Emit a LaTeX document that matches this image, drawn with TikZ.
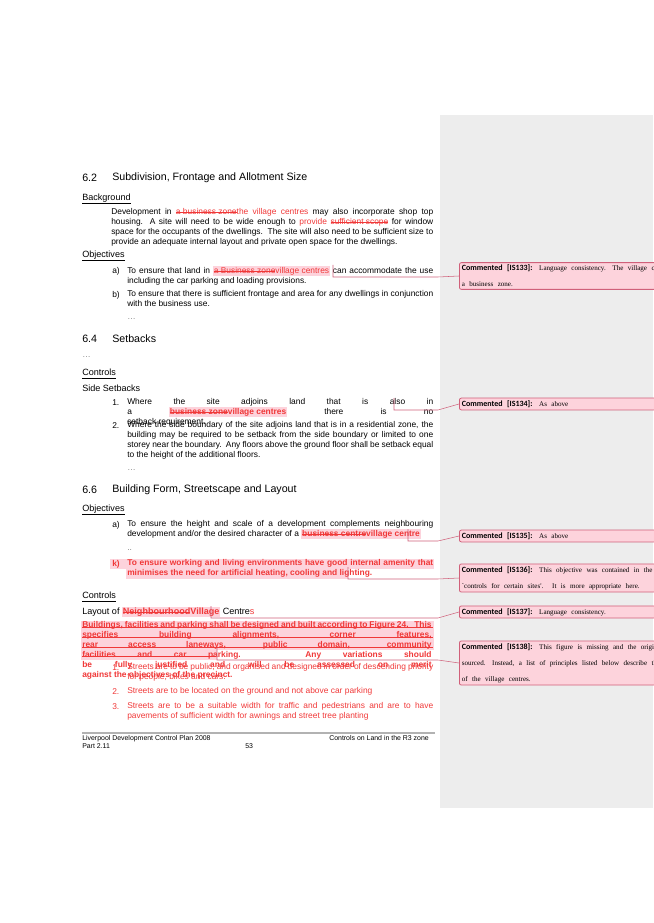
\documentclass[tikz,border=0pt]{standalone}
\usepackage{fontspec}
\setmainfont{Liberation Sans}
\newfontfamily\cmtfont{Liberation Serif}
\newfontfamily\cmthead{Carlito}
\usepackage{xcolor}
\usetikzlibrary{positioning}

\definecolor{chg}{HTML}{F03838}
\definecolor{hilite}{HTML}{FDD3DC}
\definecolor{cmtline}{HTML}{D0607A}
\definecolor{panel}{HTML}{EDEDED}
\newcommand{\strk}[1]{{\setbox0\hbox{#1}\rlap{\rule[0.25em]{\wd0}{0.35pt}}\box0}}
\newcommand{\del}[1]{\textcolor{chg}{\strk{#1}}}
\newcommand{\ins}[1]{\textcolor{chg}{#1}}
\newcommand{\hlspan}[1]{{\setlength{\fboxsep}{0.6pt}\colorbox{hilite}{#1}}}
\newcommand{\bodysize}{\fontsize{6.3}{7.5}\selectfont}
\newcommand{\cmt}[2]{{\cmthead\bfseries\fontsize{6}{7}\selectfont Commented [#1]:} {\cmtfont\fontsize{5.3}{7}\selectfont #2}}

\begin{document}
\begin{tikzpicture}[x=0.75pt,y=-0.75pt]
\tikzset{
  txt/.style={anchor=west, inner sep=0, font=\bodysize},
  para/.style={anchor=north west, inner sep=0, font=\bodysize, text width=#1, align=justify},
  head/.style={anchor=west, inner sep=0, font=\fontsize{8}{9}\selectfont},
  sub/.style={anchor=west, inner sep=0, font=\fontsize{6.8}{8}\selectfont},
  foot/.style={anchor=north west, inner sep=0, font=\fontsize{5.2}{6.2}\selectfont, align=left},
  comment/.style={anchor=west, draw=cmtline, fill=hilite, rounded corners=1.5pt, text width=180pt, align=left, inner sep=1.8pt, line width=0.6pt},
  link/.style={draw=cmtline, line width=0.4pt}
}
\useasboundingbox (0,0) rectangle (653,923);
\fill[panel] (440,115) rectangle (653,808);

% pink ranges
\fill[hilite] (110,559) rectangle (434,569);
\fill[hilite] (126,569) rectangle (348,579);
\fill[hilite] (81,621) rectangle (434,650);
\fill[hilite] (81,650) rectangle (217,660);

% 6.2
\node (h62) [head] at (82,178) {6.2};
\node (t62) [head] at (112,178) {Subdivision, Frontage and Allotment Size};
\node (bg) [sub] at (82,199) {\underline{Background}};
\node (pbg) [para=241.5pt] at (111,208) {Development in \del{a business zone}\ins{the village centres} may also incorporate shop top\linebreak housing. A site will need to be wide enough to \ins{provide \strk{sufficient scope}} for window\linebreak space for the occupants of the dwellings.\ \ The site will also need to be sufficient size to\linebreak provide an adequate internal layout and private open space for the dwellings.};
\node (obj1) [sub] at (82,256) {\underline{Objectives}};
\node (la) [txt] at (112,271) {a)};
\node (pa) [para=229.5pt] at (127,266) {To ensure that land in \hlspan{\del{a Business zone}\ins{village centres}} can accommodate the use\linebreak including the car parking and loading provisions.};
\node (lb) [txt] at (112,295) {b)};
\node (pb) [para=229.5pt] at (127,290) {To ensure that there is sufficient frontage and area for any dwellings in conjunction\linebreak with the business use.};
\node (dots1) [txt, text=gray] at (127,319) {\ldots};

% 6.4
\node (h64) [head] at (82,339) {6.4};
\node (t64) [head] at (112,339) {Setbacks};
\node (dots2) [txt, text=gray] at (82,357) {\ldots};
\node (ctl1) [sub] at (82,374) {\underline{Controls}};
\node (side) [sub] at (82,388) {Side Setbacks};
\node (l1) [txt] at (112,403) {1.};
\node (p1) [para=229.5pt] at (127,398) {Where the site adjoins land that is also in a \hlspan{\textbf{\del{business zone}\ins{village centres}}} there is no\linebreak setback requirement.};
\node (l2) [txt] at (112,426) {2.};
\node (p2) [para=229.5pt] at (127,421) {Where the side boundary of the site adjoins land that is in a residential zone, the\linebreak building may be required to be setback from the side boundary or limited to one\linebreak storey near the boundary.\ \ Any floors above the ground floor shall be setback equal\linebreak to the height of the additional floors.};
\node (dots3) [txt, text=gray] at (127,470) {\ldots};

% 6.6
\node (h66) [head] at (82,490) {6.6};
\node (t66) [head] at (112,490) {Building Form, Streetscape and Layout};
\node (obj2) [sub] at (82,510) {\underline{Objectives}};
\node (la2) [txt] at (112,525) {a)};
\node (pa2) [para=229.5pt] at (127,520) {To ensure the height and scale of a development complements neighbouring\linebreak development and/or the desired character of a \hlspan{\textbf{\del{business centre}\ins{village centre}}}};
\node (dots4) [txt, text=gray] at (127,550) {..};
\node (lk) [txt, text=chg, font=\bodysize\bfseries] at (112,564) {k)};
\node (pk) [para=229.5pt, text=chg, font=\bodysize\bfseries] at (127,559) {To ensure working and living environments have good internal amenity that\linebreak minimises the need for artificial heating, cooling and lighting.};
\node (ctl2) [sub] at (82,597) {\underline{Controls}};
\node (lay) [sub] at (82,612) {Layout of \hlspan{\textbf{\del{Neighbourhood}\ins{ Village}}} Centre\ins{s}};
\node (pfig) [para=262pt, text=chg, font=\bodysize\bfseries] at (82,621) {Buildings, facilities and parking shall be designed and built according to Figure 24.\ \ \ This\linebreak specifies building alignments, corner features, rear access laneways, public domain, community\linebreak facilities and car parking.\ \ \ Any variations should be fully justified and will be assessed on merit\linebreak against the objectives of the precinct.};
% strike lines of the deleted paragraph
\foreach \y in {627,637,647}
  \draw[chg, line width=0.4pt] (82,\y) -- (433,\y);
\draw[chg, line width=0.4pt] (82,656) -- (216,656);
\node (n1) [txt, text=chg] at (112,668) {1.};
\node (q1) [para=229.5pt, text=chg] at (127,663) {Streets are to be public, and organised and designed in order of descending priority\linebreak for people, bikes and cars.};
\node (n2) [txt, text=chg] at (112,692) {2.};
\node (q2) [para=229.5pt, text=chg] at (127,687) {Streets are to be located on the ground and not above car parking};
\node (n3) [txt, text=chg] at (112,707) {3.};
\node (q3) [para=229.5pt, text=chg] at (127,702) {Streets are to be a suitable width for traffic and pedestrians and are to have\linebreak pavements of sufficient width for awnings and street tree planting};

% footer
\draw[gray!60, line width=0.8pt] (82,733) -- (435,733);
\node (fl) [foot] at (82,735) {Liverpool Development Control Plan 2008\\Part 2.11};
\node (fp) [foot] at (245,743) {53};
\node (fr) [foot, anchor=north east] at (429,735) {Controls on Land in the R3 zone};

% comments
\node (c133) [comment] at (459,276) {\cmt{IS133}{Language consistency. The village centres are not a business zone.}};
\node (c134) [comment] at (459,404) {\cmt{IS134}{As above}};
\node (c135) [comment] at (459,536) {\cmt{IS135}{As above}};
\node (c136) [comment] at (459,578) {\cmt{IS136}{This objective was contained in the section `controls for certain sites'.\ \ It is more appropriate here.}};
\node (c137) [comment] at (459,612) {\cmt{IS137}{Language consistency.}};
\node (c138) [comment] at (459,663) {\cmt{IS138}{This figure is missing and the original cannot be sourced. Instead, a list of principles listed below describe the ideal layout of the village centres.}};

\coordinate (a133) at (333,277); \coordinate (e133) at (438,277);
\coordinate (a134) at (394,410); \coordinate (e134) at (438,410);
\coordinate (a135) at (408,541); \coordinate (e135) at (438,541);
\coordinate (a136) at (348,579); \coordinate (e136) at (438,579);
\coordinate (a137) at (211,618); \coordinate (e137) at (438,618);
\coordinate (a138) at (217,660); \coordinate (e138) at (438,660);
\foreach \k in {133,134,135,136,137,138}
  \draw[link] (a\k) ++(0,-12) -- (a\k) -- (e\k) -- (c\k.west);
\end{tikzpicture}
\end{document}
